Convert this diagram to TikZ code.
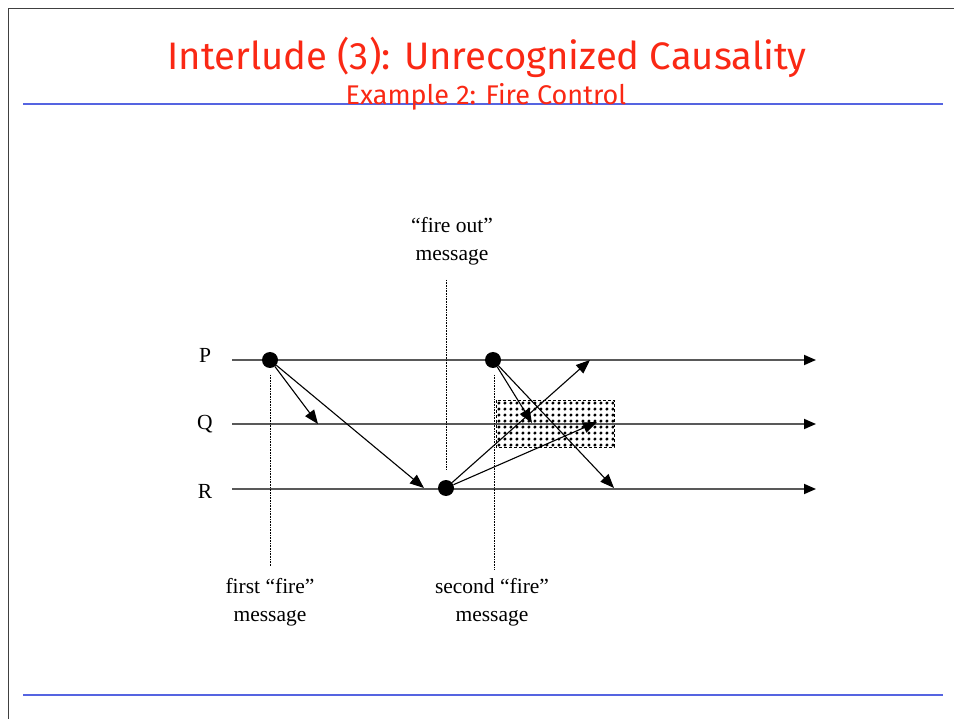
\documentclass[tikz,border=0pt]{standalone}
\usepackage{fontspec}
\setmainfont{Liberation Serif}
\newfontfamily\titlefont{Fira Sans}
\usetikzlibrary{arrows.meta,patterns.meta}
\definecolor{titlered}{RGB}{250,40,20}
\definecolor{ruleblue}{RGB}{85,100,225}
\begin{document}
\begin{tikzpicture}[x=1pt,y=-1pt,
  axis/.style={draw=black!65,line width=1.8pt,-{Triangle[length=12pt,width=10pt,black]}},
  msg/.style={draw=black,line width=1.1pt,-{Triangle[length=14pt,width=11pt]}},
  event/.style={circle,fill=black,inner sep=0pt,minimum size=16pt},
  guide/.style={draw=black,densely dotted,line width=0.6pt},
  lbl/.style={font=\fontsize{21.5}{28}\selectfont,align=center,inner sep=0pt},
  ttl/.style={text=titlered,inner sep=0pt},
  rulebl/.style={draw=ruleblue,line width=1.8pt}]
\useasboundingbox (0,0) rectangle (954,719);
\fill[white] (0,0) rectangle (954,719);
% frame
\draw[black!75,line width=1pt] (8,719) -- (8,9) -- (954,9);
% title
\node[ttl,font=\titlefont\fontsize{38.3}{42}\selectfont] (title) at (487,57) {Interlude (3): Unrecognized Causality};
\draw[rulebl] (23,104) -- (943,104);
\node[ttl,font=\titlefont\fontsize{27}{30}\selectfont] (sub) at (486,97) {Example 2: Fire Control};
\draw[rulebl] (23,695) -- (943,695);
% shaded region
\path[pattern={Dots[radius=1.8pt,distance=6.4pt]},pattern color=black] (496,400) rectangle (614,447);
\draw[black,densely dashed,line width=0.9pt] (496,400) rectangle (614,447);
% process lines
\node[lbl] (lP) at (205,355) {P};
\node[lbl] (lQ) at (205,424) {Q};
\node[lbl] (lR) at (205,491) {R};
\coordinate (ps) at (232,360); \coordinate (pe) at (816,360);
\coordinate (qs) at (232,424); \coordinate (qe) at (816,424);
\coordinate (rs) at (232,489); \coordinate (re) at (816,489);
\draw[axis] (ps) -- (pe);
\draw[axis] (qs) -- (qe);
\draw[axis] (rs) -- (re);
% guides
\coordinate (g1a) at (270,375); \coordinate (g1b) at (270,566);
\coordinate (g2a) at (446,280); \coordinate (g2b) at (446,470);
\coordinate (g3a) at (494,375); \coordinate (g3b) at (494,570);
\draw[guide] (g1a) -- (g1b);
\draw[guide] (g2a) -- (g2b);
\draw[guide] (g3a) -- (g3b);
% events
\node[event] (p1) at (270,360) {};
\node[event] (p2) at (493,360) {};
\node[event] (r1) at (446,488) {};
% messages
\coordinate (m1) at (318,424);
\coordinate (m2) at (424,488);
\coordinate (m3) at (590,360);
\coordinate (m4) at (597,422);
\coordinate (m5) at (532,423);
\coordinate (m6) at (614,488);
\draw[msg] (p1) -- (m1);
\draw[msg] (p1) -- (m2);
\draw[msg] (r1) -- (m3);
\draw[msg] (r1) -- (m4);
\draw[msg] (p2) -- (m5);
\draw[msg] (p2) -- (m6);
% labels
\node[lbl] (fo) at (452,241) {``fire out''\\message};
\node[lbl] (ff) at (270,602) {first ``fire''\\message};
\node[lbl] (sf) at (492,602) {second ``fire''\\message};
\end{tikzpicture}
\end{document}
